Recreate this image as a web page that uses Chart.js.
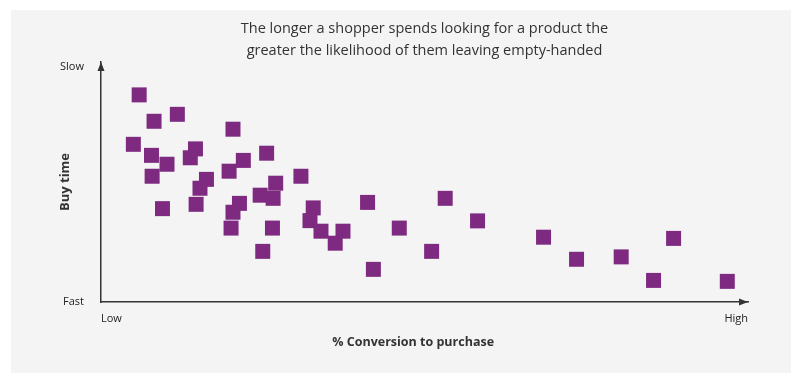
<!DOCTYPE html>
<html>
<head>
<meta charset="utf-8">
<script src="https://cdn.jsdelivr.net/npm/chart.js@4"></script>
<style>
  html, body { margin: 0; padding: 0; background: #fff; }
  #wrap { position: relative; width: 802px; height: 381px; }
</style>
</head>
<body>
<div id="wrap"><canvas id="c" width="802" height="381"></canvas></div>
<script>
// ── DATA ─────────────────────────────────────────────────────────────────────
// x: conversion (0 = Low, 100 = High), y: buy time (0 = Fast, 100 = Slow)
var conversion = [
  5.9, 8.2, 11.8, 5.0, 7.8, 10.2, 7.9, 9.5, 14.6, 13.8,
  16.3, 15.3, 14.7, 20.4, 22.0, 19.8, 25.6, 21.4, 20.4, 20.1,
  27.0, 24.6, 26.6, 26.5, 25.0, 30.9, 32.8, 32.3, 34.0, 36.2,
  37.4, 41.2, 42.1, 46.1, 51.1, 53.2, 58.2, 68.4, 73.5, 80.4,
  85.4, 88.5, 96.8
];
var buyTime = [
  86.3, 75.3, 78.2, 65.7, 61.1, 57.4, 52.4, 38.9, 63.8, 60.1,
  51.1, 47.4, 40.7, 72.0, 59.0, 54.5, 62.0, 41.1, 37.4, 30.8,
  49.5, 44.5, 43.2, 30.8, 21.1, 52.4, 39.2, 33.9, 29.5, 24.5,
  29.5, 41.5, 13.6, 30.8, 21.1, 43.2, 33.8, 27.0, 17.8, 18.8,
  9.0, 26.5, 8.6
];
var xTickLabels = ['Low', 'High'];
var yTickLabels = ['Fast', 'Slow'];
var titleLines = [
  'The longer a shopper spends looking for a product the',
  'greater the likelihood of them leaving empty-handed'
];

var points = conversion.map(function(v, i) { return { x: v, y: buyTime[i] }; });

var purple = '#7d2a80';
var axisColor = '#333333';
var textColor = '#222222';
var fontFamily = '"Open Sans", "Noto Sans", sans-serif';

// grey panel behind the chart
var panelPlugin = {
  id: 'panel',
  beforeDraw: function(chart) {
    var ctx = chart.ctx;
    ctx.save();
    ctx.fillStyle = '#f4f4f4';
    ctx.fillRect(11, 10, 780, 363);
    ctx.restore();
  }
};

// arrow heads on the two axes
var arrowPlugin = {
  id: 'arrows',
  afterDraw: function(chart) {
    var a = chart.chartArea, ctx = chart.ctx;
    ctx.save();
    ctx.fillStyle = axisColor;
    ctx.beginPath();
    ctx.moveTo(a.left, a.top);
    ctx.lineTo(a.left - 3.5, a.top + 9);
    ctx.lineTo(a.left + 3.5, a.top + 9);
    ctx.closePath();
    ctx.fill();
    ctx.beginPath();
    ctx.moveTo(a.right, a.bottom);
    ctx.lineTo(a.right - 9, a.bottom - 3.5);
    ctx.lineTo(a.right - 9, a.bottom + 3.5);
    ctx.closePath();
    ctx.fill();
    ctx.restore();
  }
};

new Chart(document.getElementById('c'), {
  type: 'scatter',
  data: {
    datasets: [{
      data: points,
      pointStyle: 'rect',
      pointRadius: 10.6,
      pointHoverRadius: 10.6,
      backgroundColor: purple,
      borderColor: purple,
      borderWidth: 0,
      clip: false
    }]
  },
  plugins: [panelPlugin, arrowPlugin],
  options: {
    responsive: false,
    animation: false,
    layout: { padding: { left: 40, right: 54, top: 0, bottom: 29 } },
    plugins: {
      legend: { display: false },
      tooltip: { enabled: false },
      title: {
        display: true,
        fullSize: false,
        text: titleLines,
        color: '#333',
        font: { family: fontFamily, size: 14.5, weight: 'normal', lineHeight: 22 / 14.5 },
        padding: { top: 18, bottom: 0 }
      }
    },
    scales: {
      x: {
        type: 'linear',
        min: 0,
        max: 100,
        afterFit: function(s) { s.height = 50; },
        afterBuildTicks: function(s) { s.ticks = [{ value: 0 }, { value: 100 }]; },
        grid: { display: false },
        border: { display: true, color: axisColor, width: 1.5 },
        ticks: {
          align: 'inner',
          padding: 2,
          maxRotation: 0,
          color: textColor,
          font: { family: fontFamily, size: 11 },
          callback: function(v) { return v === 0 ? xTickLabels[0] : xTickLabels[1]; }
        },
        title: {
          display: true,
          // trailing spaces nudge the centred title left, as in the source
          text: '% Conversion to purchase\u00a0\u00a0\u00a0\u00a0\u00a0\u00a0\u00a0',
          color: '#333',
          font: { family: fontFamily, size: 12.5, weight: 'bold' },
          padding: { top: 0, bottom: 2 }
        }
      },
      y: {
        type: 'linear',
        min: 0,
        max: 100,
        afterFit: function(s) { s.width = 61; },
        afterBuildTicks: function(s) { s.ticks = [{ value: 0 }, { value: 98 }]; },
        grid: { display: false },
        border: { display: true, color: axisColor, width: 1.5 },
        ticks: {
          padding: 9,
          color: textColor,
          font: { family: fontFamily, size: 11 },
          callback: function(v) { return v === 0 ? yTickLabels[0] : yTickLabels[1]; }
        },
        title: {
          display: true,
          text: 'Buy time',
          color: '#333',
          font: { family: fontFamily, size: 13, weight: 'bold' },
          padding: { top: 17, bottom: 0 }
        }
      }
    }
  }
});
</script>
</body>
</html>
